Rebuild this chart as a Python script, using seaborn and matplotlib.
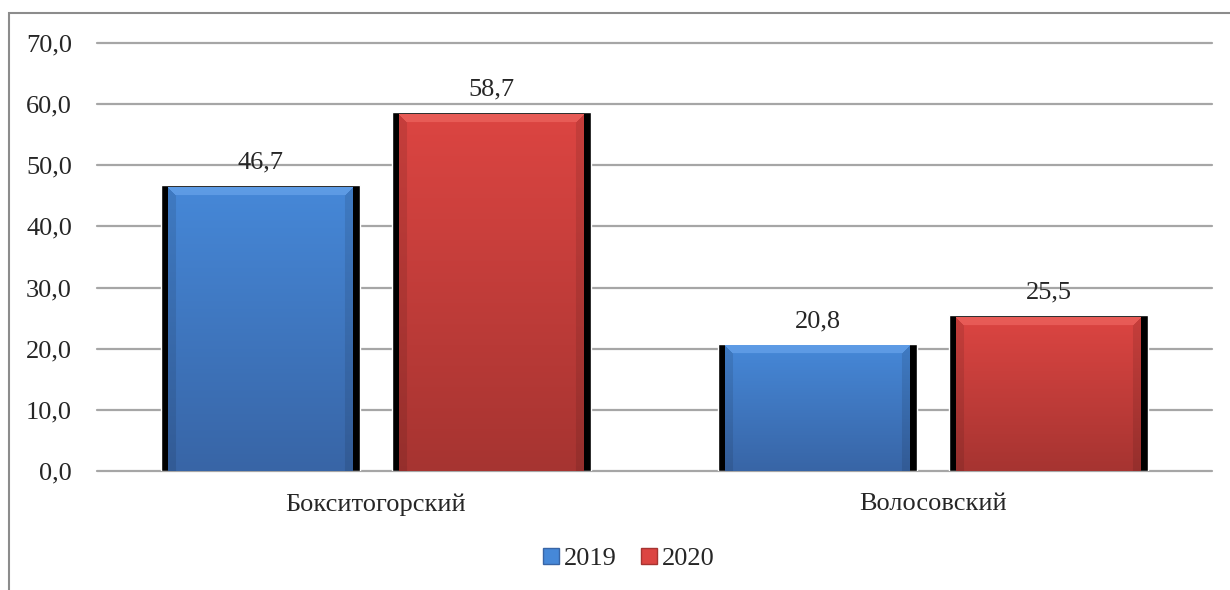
import numpy as np
import pandas as pd
import matplotlib
matplotlib.use("Agg")
import matplotlib.pyplot as plt
import seaborn as sns
from matplotlib.patches import Rectangle, Patch
from matplotlib.colors import to_rgb

districts = ["Бокситогорский", "Волосовский"]
years = ["2019", "2020"]
values_2019 = [46.7, 20.8]
values_2020 = [58.7, 25.5]
y_ticks = [0, 10, 20, 30, 40, 50, 60, 70]

# (highlight, top, bottom) colours of the bevelled bars
bar_colors = {
    "2019": ("#6ea8ee", "#4688d8", "#3865a6"),
    "2020": ("#f06a64", "#dc4542", "#a63431"),
}

df = pd.DataFrame({
    "district": districts * 2,
    "year": [years[0]] * len(districts) + [years[1]] * len(districts),
    "value": values_2019 + values_2020,
})

sns.set_theme(style="white")
plt.rcParams["font.family"] = ["Liberation Serif", "DejaVu Serif"]
FS = 19

W, H = 1230, 590
fig = plt.figure(figsize=(W / 100, H / 100), dpi=100)
ax = fig.add_axes([97 / W, 1 - 471 / H, (1212 - 97) / W, (471 - 43) / H])

sns.barplot(data=df, x="district", y="value", hue="year", order=districts,
            hue_order=years, palette=["black", "black"], saturation=1,
            width=0.83, gap=0.14, legend=False, ax=ax, zorder=3)

ax.set_xlim(-0.5, 1.5)
ax.set_ylim(0, 70)
ax.set_yticks(y_ticks)
ax.set_yticklabels([f"{v:.1f}".replace(".", ",") for v in y_ticks], fontsize=FS)
ax.tick_params(axis="y", length=0, pad=18)
ax.tick_params(axis="x", length=0, pad=16, labelsize=FS)
ax.set_xlabel("")
ax.set_ylabel("")
for s in ax.spines.values():
    s.set_visible(False)
ax.yaxis.grid(True, color="#a6a6a6", linewidth=1.6, zorder=1)
ax.set_axisbelow(True)
for ln in ax.get_ygridlines():
    ln.set_clip_on(False)

# pixel size in data units
px_x = 2.0 / (1212 - 97)
px_y = 70.0 / (471 - 43)


def bevel_image(colors, wpx, hpx):
    hl, top, bot = (np.array(to_rgb(c)) for c in colors)
    wpx, hpx = max(int(wpx), 2), max(int(hpx), 2)
    t = np.linspace(0, 1, hpx)[:, None, None]
    img = top * (1 - t) + bot * t
    img = np.repeat(img, wpx, axis=1)
    b = 8
    yy, xx = np.mgrid[0:hpx, 0:wpx]
    # top bevel lighter, side bevels slightly darker
    top_band = (yy < b) & (xx >= yy) & (xx < wpx - yy)
    img[top_band] = img[top_band] * 0.4 + hl * 0.6
    side = ((xx < b) | (xx >= wpx - b)) & ~top_band
    img[side] = img[side] * 0.9
    return img


year_of_patch = []
for yr in years:
    year_of_patch += [yr] * len(districts)

for patch, yr in zip(ax.patches, year_of_patch):
    x0, w, h = patch.get_x(), patch.get_width(), patch.get_height()
    inset = 7 * px_x
    left, right = x0 + inset, x0 + w - inset
    topv = h - 2 * px_y
    img = bevel_image(bar_colors[yr], (right - left) / px_x, topv / px_y)
    ax.imshow(img, extent=[left, right, 0, topv], aspect="auto",
              origin="upper", zorder=4, interpolation="bilinear")
    ax.annotate(f"{h:.1f}".replace(".", ","), (x0 + w / 2, h),
                xytext=(0, 12), textcoords="offset points",
                ha="center", va="baseline", fontsize=FS, zorder=5)

ax.set_xlim(-0.5, 1.5)
ax.set_ylim(0, 70)

handles = [Patch(facecolor=bar_colors[y][1], edgecolor=bar_colors[y][2],
                 label=y) for y in years]
fig.legend(handles=handles, loc="center", bbox_to_anchor=(629 / W, 1 - 559 / H),
           ncol=2, frameon=False, fontsize=FS, handlelength=0.6,
           handleheight=0.6, handletextpad=0.2, columnspacing=0.9)

# outer chart frame
fig.add_artist(Rectangle((9 / W, -0.1), 1.2, 1 - 13 / H + 0.1,
                         transform=fig.transFigure, fill=False,
                         edgecolor="#8c8c8c", linewidth=1.5))

fig.savefig("out.png", dpi=100, facecolor="white")
